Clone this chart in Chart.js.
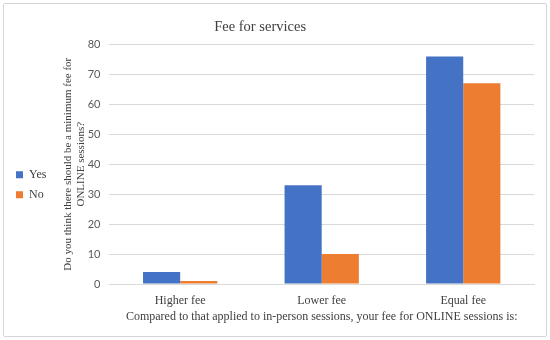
<!DOCTYPE html>
<html>
<head>
<meta charset="utf-8">
<script src="https://cdn.jsdelivr.net/npm/chart.js@4/dist/chart.umd.min.js"></script>
<style>
  html, body { margin: 0; padding: 0; background: #fff; }
  #frame { position: absolute; left: 3px; top: 3px; width: 542px; height: 332px; border: 1px solid #d6d6d6; border-radius: 2px; }
  canvas { display: block; }
</style>
</head>
<body>
<div id="frame"><canvas id="c" width="542" height="332"></canvas></div>
<script>
const categories = ['Higher fee', 'Lower fee', 'Equal fee'];
const yesValues = [4, 33, 76];
const noValues = [1, 10, 67];
const yTicks = [0, 10, 20, 30, 40, 50, 60, 70, 80];

const serif = "'Liberation Serif', 'DejaVu Serif', serif";
const sans = "Lato, 'Noto Sans', sans-serif";

new Chart(document.getElementById('c'), {
  type: 'bar',
  data: {
    labels: categories,
    datasets: [
      { label: 'Yes', data: yesValues, backgroundColor: '#4472C4' },
      { label: 'No', data: noValues, backgroundColor: '#ED7D31' }
    ]
  },
  options: {
    responsive: false,
    animation: false,
    layout: { padding: { left: 4, right: 12, top: 11, bottom: 13 } },
    datasets: { bar: { categoryPercentage: 0.525, barPercentage: 1 } },
    plugins: {
      title: {
        display: true,
        text: 'Fee for services\u00A0\u00A0\u00A0\u00A0\u00A0\u00A0',
        color: '#404040',
        font: { family: serif, size: 14.5, weight: 'normal' },
        padding: { top: 3, bottom: 9 }
      },
      legend: {
        position: 'left',
        align: 'center',
        title: { display: true, text: ' ', padding: { top: 9, bottom: 8 }, font: { size: 12 } },
        labels: {
          boxWidth: 7,
          boxHeight: 7,
          padding: 8,
          color: '#404040',
          font: { family: serif, size: 12 }
        }
      },
      tooltip: { enabled: false }
    },
    scales: {
      x: {
        grid: { display: false },
        border: { color: '#d9d9d9' },
        ticks: { color: '#404040', font: { family: serif, size: 12, lineHeight: 1.0 }, padding: 3 },
        title: {
          display: true,
          text: 'Compared to that applied to in-person sessions, your fee for ONLINE sessions is:',
          color: '#404040',
          font: { family: serif, size: 12, lineHeight: 1.0 },
          padding: { top: 1, bottom: 0 }
        }
      },
      y: {
        min: 0,
        max: 80,
        afterBuildTicks: (axis) => { axis.ticks = yTicks.map(v => ({ value: v })); },
        grid: { color: '#d9d9d9', drawTicks: false },
        border: { display: false },
        ticks: { color: '#595959', font: { family: sans, size: 11 }, padding: 9 },
        title: {
          display: true,
          text: ['Do you think there should be a minimum fee for', 'ONLINE sessions?'],
          color: '#404040',
          font: { family: serif, size: 11, lineHeight: 1.1 },
          padding: { top: 6, bottom: -8 }
        }
      }
    }
  }
});
</script>
</body>
</html>
